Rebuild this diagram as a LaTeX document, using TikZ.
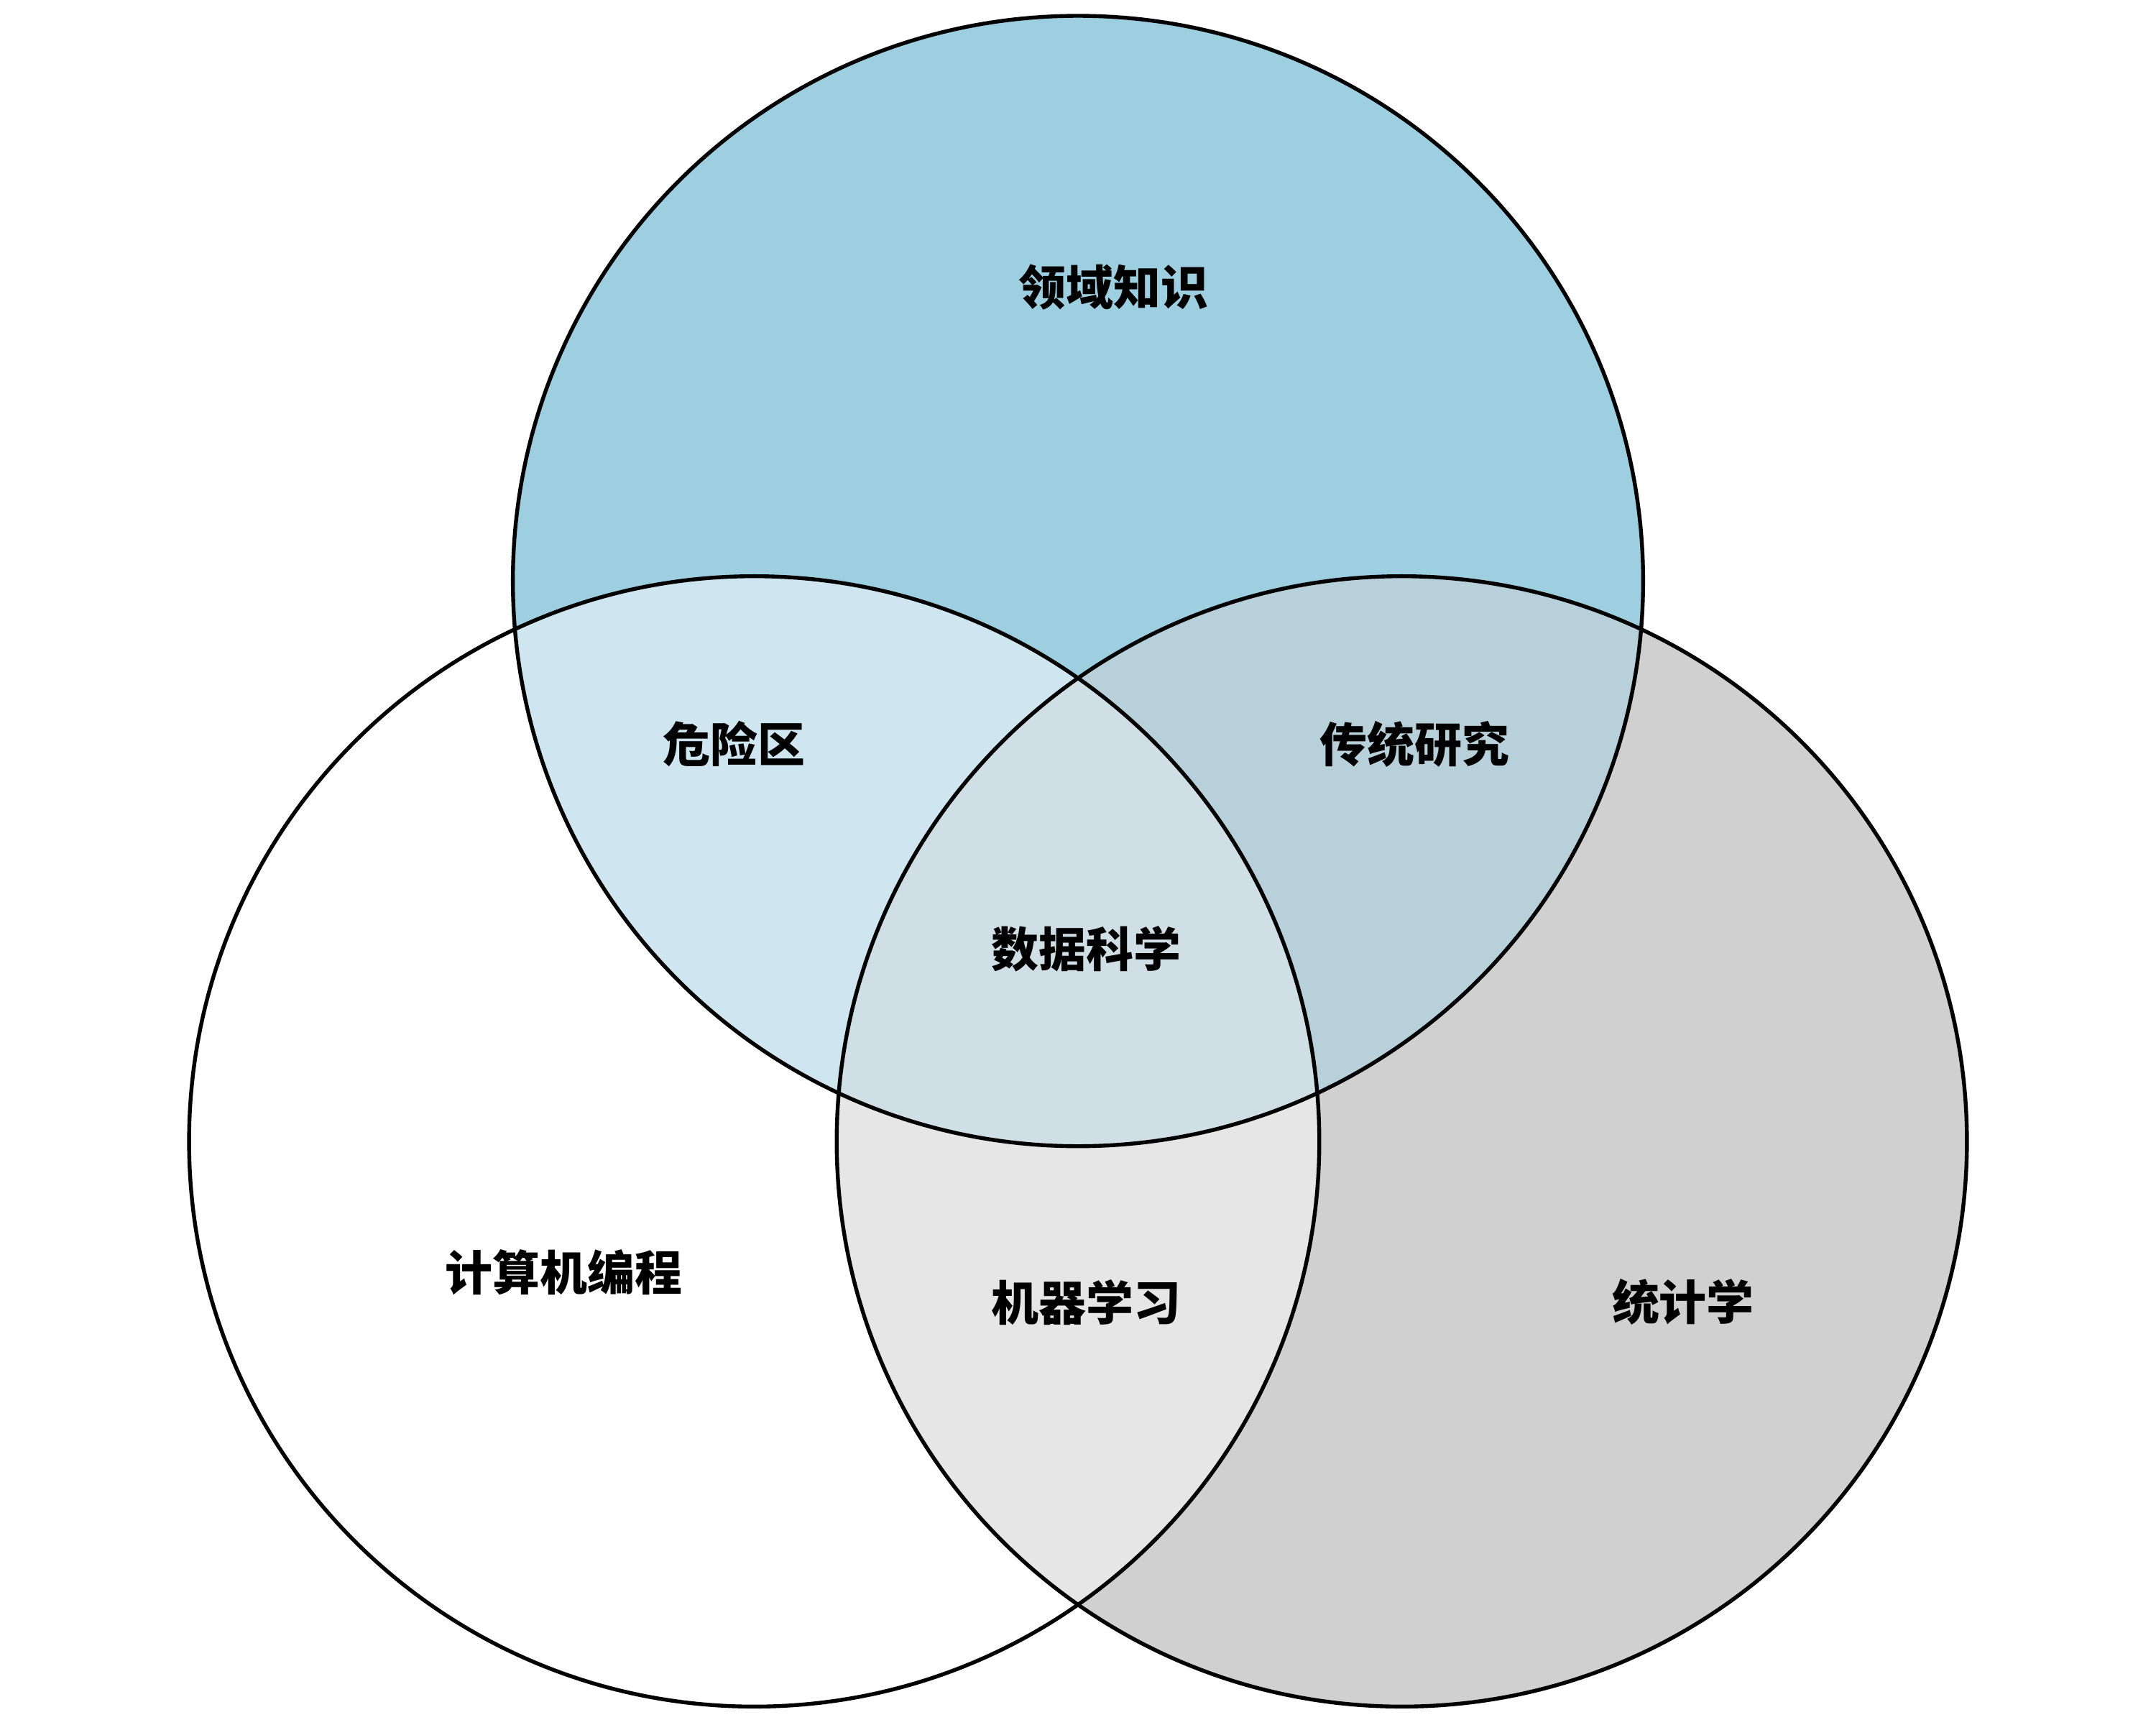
\documentclass[tikz,border=0pt]{standalone}
\usepackage{fontspec}
\newfontfamily\cjk{Noto Sans CJK SC}
\definecolor{cblue}{HTML}{9ECFE0}
\definecolor{cgray}{HTML}{D0D0D0}
\definecolor{ctr}{HTML}{B8D0DA}
\definecolor{ctl}{HTML}{CFE6F0}
\definecolor{clr}{HTML}{E6E6E6}
\definecolor{cmid}{HTML}{D0DEE5}
\begin{document}
\begin{tikzpicture}[x=0.1mm,y=-0.1mm,
  lab/.style={font=\cjk\bfseries\fontsize{9.8pt}{12pt}\selectfont, inner sep=0pt},
  ring/.style={draw=black, line width=0.8pt}]
\useasboundingbox (0,0) rectangle (1568,1254);
\def\R{4.11cm}
\coordinate (T) at (784,422.5);
\coordinate (L) at (548.5,830);
\coordinate (Rc) at (1019.5,830);
% base fills
\fill[cblue] (T) circle[radius=\R];
\fill[cgray] (Rc) circle[radius=\R];
\fill[white] (L) circle[radius=\R];
\begin{scope}
  \clip (T) circle[radius=\R];
  \fill[ctr] (Rc) circle[radius=\R];
  \fill[ctl] (L) circle[radius=\R];
\end{scope}
\begin{scope}
  \clip (L) circle[radius=\R];
  \fill[clr] (Rc) circle[radius=\R];
  \clip (T) circle[radius=\R];
  \fill[cmid] (Rc) circle[radius=\R];
\end{scope}
% outlines
\draw[ring] (T) circle[radius=\R];
\draw[ring] (L) circle[radius=\R];
\draw[ring] (Rc) circle[radius=\R];
% labels
\node[lab] (domain) at (810,209) {领域知识};
\node[lab] (danger) at (534,541) {危险区};
\node[lab] (trad) at (1029,541) {传统研究};
\node[lab] (ds) at (790,690) {数据科学};
\node[lab] (prog) at (410,925) {计算机编程};
\node[lab] (ml) at (790,947) {机器学习};
\node[lab] (stat) at (1224,947) {统计学};
\end{tikzpicture}
\end{document}
